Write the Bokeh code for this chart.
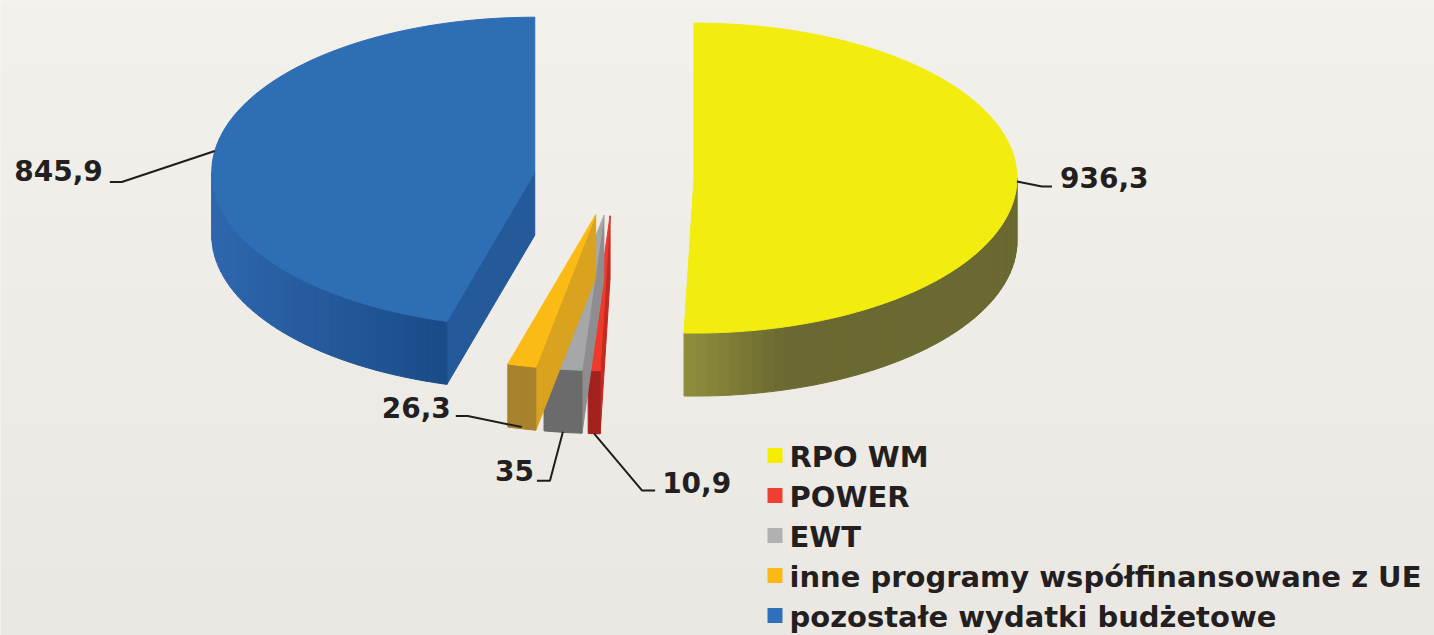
import numpy as np
from bokeh.plotting import figure
from bokeh.models import Range1d
from bokeh.embed import file_html
from bokeh.resources import INLINE
from bokeh.core.properties import value

# ---------------- data ----------------
categories = ["RPO WM", "POWER", "EWT",
              "inne programy współfinansowane z UE",
              "pozostałe wydatki budżetowe"]
values = [936.3, 10.9, 35, 26.3, 845.9]

# ---------------- style ----------------
top_colors = ["#F2EC0F", "#EE3A2A", "#A6A7A9", "#FCBA14", "#2D6EB5"]
face_colors = ["#C9C20E", "#C42A22", "#8E8E90", "#D9A21F", "#24599A"]
wall_left = ["#908E3C", "#A3201E", "#6B6B6B", "#A8812C", "#2E67AE"]
wall_right = ["#6A6931", "#A3201E", "#6B6B6B", "#A8812C", "#1A4B87"]
wall_ramp = [0.3, 1.0, 1.0, 1.0, 1.0]
legend_colors = ["#F5EC00", "#EE4030", "#B0B1B3", "#FDB913", "#2E70BA"]
text_color = "#231F20"
font = value("DejaVu Sans")
BASE_FIX = -12  # svg alphabetic baseline correction

# label layout (offsets from slice anchor)
elbow_off = [(25, 5), (48, 57), (-13, 49), (-54, -11), (-93, 31)]
end_off = [(35, 5), (61, 57), (-26, 49), (-66, -11), (-105, 31)]
text_off = [(43, 8), (68, 61), (-29, 51), (-71, -8), (-112, 32)]
text_align = ["left", "left", "right", "right", "right"]

W, H = 1434, 635
CX, CY = 613.5, 177.0
RX, RY = 323.0, 155.0
DEPTH = 63.0
EXPLODE = 80.0

p = figure(width=W, height=H, x_range=Range1d(0, W), y_range=Range1d(H, 0),
           output_backend="svg", toolbar_location=None,
           x_axis_type=None, y_axis_type=None, min_border=0)
p.outline_line_color = None
p.background_fill_color = "#EEEBE6"
p.border_fill_color = "#EEEBE6"

# subtle background gradient
ny, nx = 64, 4
img = np.empty((ny, nx), dtype=np.uint32)
view = img.view(dtype=np.uint8).reshape((ny, nx, 4))
top_c = np.array([0xF3, 0xF1, 0xEC], float)
bot_c = np.array([0xEB, 0xE8, 0xE3], float)
for j in range(ny):
    f = j / (ny - 1)
    c = top_c * (1 - f) + bot_c * f
    view[j, :, 0] = int(c[0]); view[j, :, 1] = int(c[1]); view[j, :, 2] = int(c[2]); view[j, :, 3] = 255
p.image_rgba(image=[img], x=0, y=0, dw=W, dh=H)


def hex2rgb(h):
    h = h.lstrip("#")
    return np.array([int(h[i:i + 2], 16) for i in (0, 2, 4)], float)


def rgb2hex(c):
    return "#%02x%02x%02x" % tuple(int(round(v)) for v in c)


def pt(cx, cy, ang):
    t = np.radians(ang)
    return cx + RX * np.sin(t), cy - RY * np.cos(t)


total = float(sum(values))
starts, ends = [], []
acc = 0.0
for v in values:
    starts.append(acc / total * 360.0)
    acc += v
    ends.append(acc / total * 360.0)

centers = []
for a0, a1 in zip(starts, ends):
    b = np.radians((a0 + a1) / 2)
    centers.append((CX + EXPLODE * np.sin(b), CY - EXPLODE * np.cos(b) * RY / RX))


def draw_slice(i):
    a0, a1 = starts[i], ends[i]
    cx, cy = centers[i]
    # radial faces
    for ang, vis in ((a0, np.sin(np.radians(a0)) < 0), (a1, np.sin(np.radians(a1)) > 0)):
        if vis:
            ox, oy = pt(cx, cy, ang)
            xs = [cx, ox, ox, cx]
            ys = [cy, oy, oy + DEPTH, cy + DEPTH]
            p.patch(xs, ys, fill_color=face_colors[i], line_color=face_colors[i], line_width=1)
    # outer wall (front part)
    lo, hi = max(a0, 90.0), min(a1, 270.0)
    if lo < hi:
        n = max(2, int((hi - lo) / 2) + 2)
        angs = np.linspace(lo, hi, n)
        xs_all, _ = pt(cx, cy, angs)
        xmin, xmax = xs_all.min(), xs_all.max()
        cl, cr = hex2rgb(wall_left[i]), hex2rgb(wall_right[i])
        qx, qy, cols = [], [], []
        for k in range(n - 1):
            xa, ya = pt(cx, cy, angs[k])
            xb, yb = pt(cx, cy, angs[k + 1])
            xm = (xa + xb) / 2
            t = 0.0 if xmax == xmin else (xm - xmin) / (xmax - xmin)
            t = min(1.0, t / wall_ramp[i])
            col = rgb2hex(cl * (1 - t) + cr * t)
            qx.append([xa, xb, xb, xa])
            qy.append([ya, yb, yb + DEPTH, ya + DEPTH])
            cols.append(col)
        p.patches(qx, qy, fill_color=cols, line_color=cols, line_width=1)
    # top face
    angs = np.linspace(a0, a1, max(3, int(a1 - a0) + 2))
    ax, ay = pt(cx, cy, angs)
    xs = [cx] + list(ax)
    ys = [cy] + list(ay)
    p.patch(xs, ys, fill_color=top_colors[i], line_color=top_colors[i], line_width=1)


# back to front
for i in [4, 0, 1, 2, 3]:
    draw_slice(i)

# value labels with leader lines
for i, v in enumerate(values):
    a0, a1 = starts[i], ends[i]
    bis = (a0 + a1) / 2
    cx, cy = centers[i]
    ax, ay = pt(cx, cy, bis)
    ay += DEPTH * max(0.0, -np.cos(np.radians(bis)))
    ex, ey = elbow_off[i]
    nx_, ny_ = end_off[i]
    p.line([ax, ax + ex, ax + nx_], [ay, ay + ey, ay + ny_], line_color="#1E1E1E", line_width=2)
    tx, ty = text_off[i]
    lbl = f"{v:g}".replace(".", ",")
    p.text(x=[ax + tx], y=[ay + ty + BASE_FIX], text=[lbl], text_font=font, text_font_style="bold",
           text_font_size="28px", text_color=text_color, text_align=text_align[i],
           text_baseline="alphabetic")

# legend
LX, LY, LSTEP, SQ = 774.5, 455.0, 40.0, 15
for i, name in enumerate(categories):
    yy = LY + i * LSTEP
    p.rect(x=[LX], y=[yy], width=SQ, height=SQ, fill_color=legend_colors[i], line_color=None)
    p.text(x=[LX + 14.5], y=[yy + 13 + BASE_FIX], text=[name], text_font=font, text_font_style="bold",
           text_font_size="29px", text_color=text_color, text_align="left",
           text_baseline="alphabetic")

open("out.html", "w").write(file_html(p, INLINE))
